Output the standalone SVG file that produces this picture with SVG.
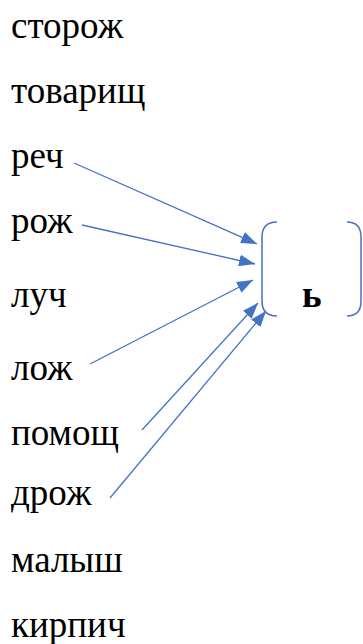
<svg xmlns="http://www.w3.org/2000/svg" width="363" height="644" viewBox="0 0 363 644">
<defs>
<style>
.w{font-family:"Liberation Serif","Times New Roman",serif;font-size:37px;fill:#000}
.b{font-family:"Liberation Serif","Times New Roman",serif;font-size:37px;font-weight:bold;fill:#000}
.c{stroke:#4472C4;stroke-width:1.3;fill:none}
.br{stroke:#4472C4;stroke-width:1.5;fill:none}
</style>
<marker id="ah" markerUnits="userSpaceOnUse" markerWidth="16" markerHeight="12" viewBox="0 0 16 12" refX="16" refY="6" orient="auto">
<path d="M0,0 L16,6 L0,12 Z" fill="#4472C4"/>
</marker>
</defs>
<rect width="363" height="644" fill="#fff"/>
<g id="w1"><text class="w" x="11" y="38">сторож</text></g>
<g id="w2"><text class="w" x="11" y="103">товарищ</text></g>
<g id="w3"><text class="w" x="11" y="168">реч</text></g>
<g id="w4"><text class="w" x="11" y="233">рож</text></g>
<g id="w5"><text class="w" x="11" y="307">луч</text></g>
<g id="w6"><text class="w" x="11" y="380">лож</text></g>
<g id="w7"><text class="w" x="11" y="445">помощ</text></g>
<g id="w8"><text class="w" x="11" y="505">дрож</text></g>
<g id="w9"><text class="w" x="11" y="572">малыш</text></g>
<g id="w10"><text class="w" x="11" y="637">кирпич</text></g>
<g id="target">
<path class="br" d="M277,222 Q262,222 262,237 L262,301 Q262,316 277,316"/>
<path class="br" d="M347,222 Q361,222 361,237 L361,301 Q361,316 347,316"/>
<text class="b" x="302" y="307">ь</text>
</g>
<g id="connectors">
<line class="c" x1="74" y1="163" x2="257" y2="244" marker-end="url(#ah)"/>
<line class="c" x1="82" y1="225" x2="255" y2="264" marker-end="url(#ah)"/>
<line class="c" x1="90" y1="364" x2="253" y2="280" marker-end="url(#ah)"/>
<line class="c" x1="142" y1="430" x2="258" y2="303" marker-end="url(#ah)"/>
<line class="c" x1="110" y1="498" x2="266" y2="311" marker-end="url(#ah)"/>
</g>
</svg>
